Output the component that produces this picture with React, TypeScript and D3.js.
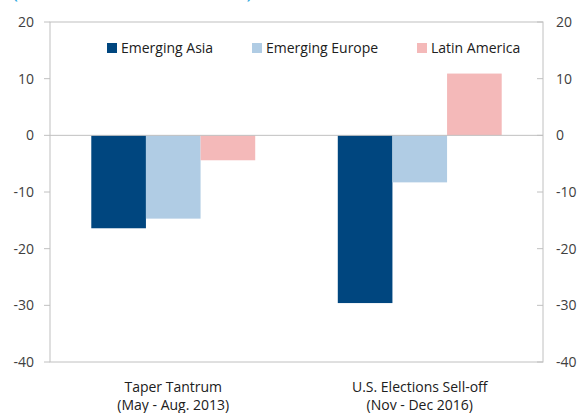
import React from "react";
import * as d3 from "d3";

const categories = ["Taper Tantrum|(May - Aug. 2013)", "U.S. Elections Sell-off|(Nov - Dec 2016)"];
const seriesNames = ["Emerging Asia", "Emerging Europe", "Latin America"];
const emergingAsia = [-16.4, -29.6];
const emergingEurope = [-14.7, -8.3];
const latinAmerica = [-4.4, 10.9];
const yTicks = [20, 10, 0, -10, -20, -30, -40];
const colors = ["#00467f", "#b0cce4", "#f4b9b9"];
const title = "(In billions of U.S. dollars)";

const W = 579, H = 413;
const M = { left: 50, right: 543, top: 22, bottom: 362 };
const FONT = "'Open Sans', sans-serif";

export default function App() {
  const series = [emergingAsia, emergingEurope, latinAmerica];
  const y = d3.scaleLinear().domain([-40, 20]).range([M.bottom, M.top]);
  const x0 = d3.scaleBand().domain(categories).range([M.left, M.right]).paddingInner(0.335).paddingOuter(0.1675);
  const x1 = d3.scaleBand().domain(seriesNames).range([0, x0.bandwidth()]);
  const grey = "#c0c0c0";
  const legendX = [107, 252, 417];
  return (
    <svg width={W} height={H} style={{ position: "absolute", left: 0, top: 0, background: "#fff" }}>
      <text x={12} y={-2.5} fontFamily={FONT} fontSize={20.5} fill="#29a8e0">{title}</text>
      {categories.map((c, ci) =>
        series.map((s, si) => {
          const v = s[ci];
          return (
            <rect key={c + si} x={(x0(c) as number) + (x1(seriesNames[si]) as number)} width={x1.bandwidth()}
              y={y(Math.max(0, v))} height={Math.abs(y(v) - y(0))} fill={colors[si]} />
          );
        })
      )}
      <line x1={M.left} x2={M.right} y1={y(0)} y2={y(0)} stroke={grey} strokeWidth={1} />
      <rect x={M.left} y={M.top} width={M.right - M.left} height={M.bottom - M.top} fill="none" stroke={grey} strokeWidth={1} />
      {yTicks.map((t) => (
        <g key={t}>
          <line x1={M.left - 6} x2={M.left} y1={y(t)} y2={y(t)} stroke={grey} />
          <line x1={M.right - 6} x2={M.right} y1={y(t)} y2={y(t)} stroke={grey} />
          <text x={34} y={y(t)} dy="0.35em" textAnchor="end" fontFamily={FONT} fontSize={14} fill="#404040">{t}</text>
          <text x={556} y={y(t)} dy="0.35em" textAnchor="start" fontFamily={FONT} fontSize={14} fill="#404040">{t}</text>
        </g>
      ))}
      {seriesNames.map((n, i) => (
        <g key={n}>
          <rect x={legendX[i]} y={43} width={10} height={10} fill={colors[i]} />
          <text x={legendX[i] + 14} y={48} dy="0.35em" fontFamily={FONT} fontSize={14} fill="#202020">{n}</text>
        </g>
      ))}
      {categories.map((c) => {
        const cx = (x0(c) as number) + x0.bandwidth() / 2;
        const [a, b] = c.split("|");
        return (
          <g key={c}>
            <text x={cx} y={387} dy="0.35em" textAnchor="middle" fontFamily={FONT} fontSize={14} fill="#202020">{a}</text>
            <text x={cx} y={405} dy="0.35em" textAnchor="middle" fontFamily={FONT} fontSize={14} fill="#202020">{b}</text>
          </g>
        );
      })}
    </svg>
  );
}
